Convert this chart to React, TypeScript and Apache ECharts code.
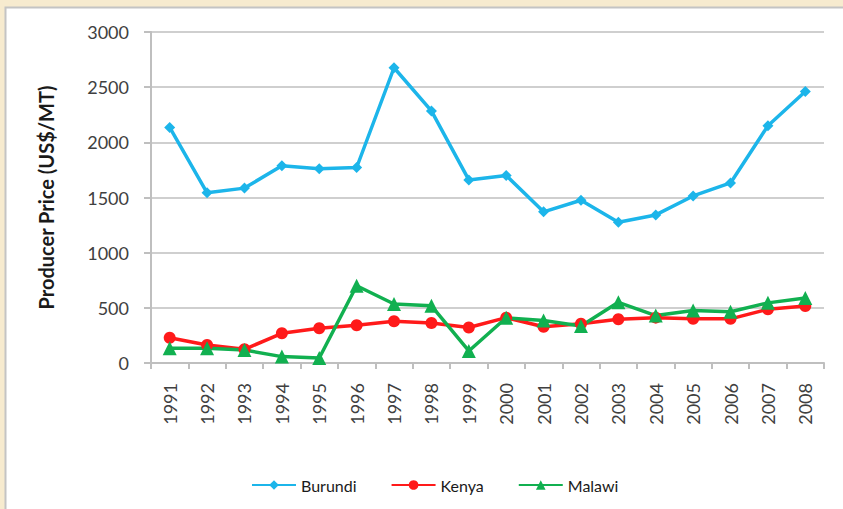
import React, { useEffect, useRef } from "react";
import * as echarts from "echarts";

const years = ["1991","1992","1993","1994","1995","1996","1997","1998","1999","2000","2001","2002","2003","2004","2005","2006","2007","2008"];
const burundi = [2135, 1543, 1585, 1788, 1760, 1772, 2676, 2285, 1659, 1700, 1370, 1475, 1275, 1342, 1514, 1632, 2150, 2460];
const kenya = [229, 163, 124, 269, 315, 342, 378, 362, 322, 411, 328, 356, 396, 411, 400, 400, 487, 517];
const malawi = [133, 133, 118, 58, 45, 700, 535, 518, 109, 410, 385, 336, 550, 430, 475, 465, 545, 590];
const yTicks = { min: 0, max: 3000, interval: 500 };

const FONT = "Lato, 'Open Sans', sans-serif";

export default function App() {
  const ref = useRef<HTMLDivElement>(null);
  useEffect(() => {
    if (!ref.current) return;
    const chart = echarts.init(ref.current, undefined, { renderer: "svg" });
    chart.setOption({
      animation: false,
      backgroundColor: "#f7ebcf",
      textStyle: { fontFamily: FONT },
      graphic: [
        {
          type: "rect",
          z: -10,
          shape: { x: 5.5, y: 7.5, width: 860, height: 520 },
          style: { fill: "#ffffff", stroke: "#c4c4c4", lineWidth: 2 },
        },
      ],
      grid: { left: 151, right: 19, top: 32, bottom: 146 },
      legend: {
        left: 246,
        top: 472,
        itemWidth: 44,
        itemHeight: 12,
        itemGap: 34,
        textStyle: { fontSize: 16, color: "#1a1a1a", fontFamily: FONT },
        data: ["Burundi", "Kenya", "Malawi"],
      },
      xAxis: {
        type: "category",
        data: years,
        boundaryGap: true,
        axisLine: { lineStyle: { color: "#bfbfbf", width: 2 } },
        axisTick: { show: true, length: 6, lineStyle: { color: "#bfbfbf", width: 2 } },
        axisLabel: { rotate: 90, fontSize: 18, color: "#404040", margin: 20, fontFamily: FONT },
      },
      yAxis: {
        type: "value",
        min: yTicks.min,
        max: yTicks.max,
        interval: yTicks.interval,
        name: "Producer Price (US$/MT)",
        nameLocation: "middle",
        nameGap: 95,
        nameTextStyle: { fontSize: 20, fontWeight: "bold", color: "#1a1a1a", fontFamily: FONT },
        axisLine: { show: true, lineStyle: { color: "#bfbfbf", width: 2 } },
        axisTick: { show: true, length: 7, lineStyle: { color: "#bfbfbf", width: 2 } },
        axisLabel: {
          fontSize: 18,
          color: "#404040",
          margin: 22,
          fontFamily: FONT,
          formatter: (v: number) => String(v),
        },
        splitLine: { lineStyle: { color: "#cfcfcf", width: 2 } },
      },
      series: [
        {
          name: "Burundi",
          type: "line",
          data: burundi,
          color: "#1cb5ea",
          symbol: "diamond",
          symbolSize: 11,
          lineStyle: { width: 3.5 },
        },
        {
          name: "Kenya",
          type: "line",
          data: kenya,
          color: "#ff1a1a",
          symbol: "circle",
          symbolSize: 12,
          lineStyle: { width: 3.5 },
        },
        {
          name: "Malawi",
          type: "line",
          data: malawi,
          color: "#11b050",
          symbol: "triangle",
          symbolSize: 14,
          lineStyle: { width: 3.5 },
        },
      ],
    });
    return () => chart.dispose();
  }, []);
  return (
    <div
      ref={ref}
      style={{ position: "absolute", left: 0, top: 0, width: 843, height: 509 }}
    />
  );
}
